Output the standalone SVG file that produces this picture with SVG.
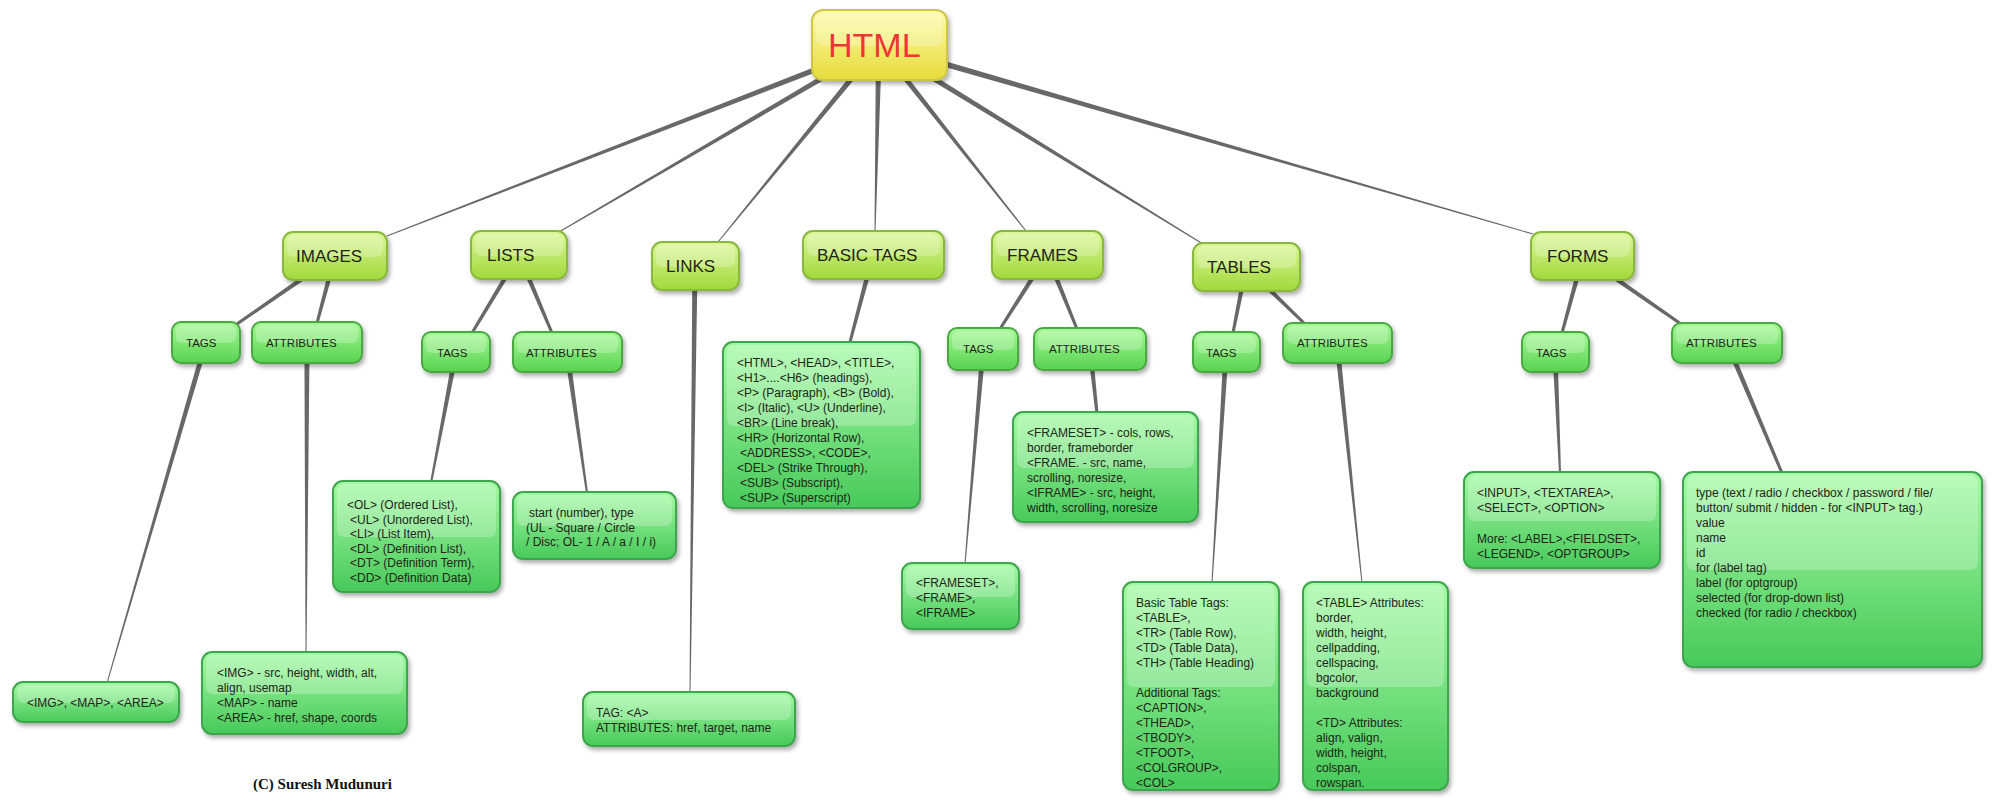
<svg xmlns="http://www.w3.org/2000/svg" xmlns:xlink="http://www.w3.org/1999/xlink" width="1992" height="801" viewBox="0 0 1992 801">
<defs>
<linearGradient id="gH" x1="0" y1="0" x2="0" y2="1"><stop offset="0" stop-color="#fdfca8"/><stop offset="1" stop-color="#e6dc3c"/></linearGradient>
<linearGradient id="gM" x1="0" y1="0" x2="0" y2="1"><stop offset="0" stop-color="#dcf79a"/><stop offset="1" stop-color="#a2d83a"/></linearGradient>
<linearGradient id="gS" x1="0" y1="0" x2="0" y2="1"><stop offset="0" stop-color="#a6f996"/><stop offset="1" stop-color="#58d250"/></linearGradient>
<linearGradient id="gL" x1="0" y1="0" x2="0" y2="1"><stop offset="0" stop-color="#a4faa4"/><stop offset="1" stop-color="#48c95a"/></linearGradient>
<filter id="sh" x="-10%" y="-10%" width="130%" height="140%"><feDropShadow dx="2" dy="3" stdDeviation="2" flood-color="#000" flood-opacity="0.32"/></filter>
<polygon id="tA" points="0,-3 1,-0.5 1,0.5 0,3"/>
<polygon id="tB" points="0,-2.5 1,-1.5 1,1.5 0,2.5"/>
<polygon id="tC" points="0,-2.6 1,-0.5 1,0.5 0,2.6"/>
<polygon id="tD" points="0,-2.6 1,-1 1,1 0,2.6"/>
</defs>
<style>
.con use{fill:#686868}
.h{fill:url(#gH);stroke:#cfc54c;stroke-width:2;filter:url(#sh)}
.m{fill:url(#gM);stroke:#88b83e;stroke-width:2;filter:url(#sh)}
.s{fill:url(#gS);stroke:#48a843;stroke-width:2;filter:url(#sh)}
.l{fill:url(#gL);stroke:#3ea64e;stroke-width:2;filter:url(#sh)}
.gl{fill:#ffffff;fill-opacity:0.24}
text{font-family:"Liberation Sans",Arial,sans-serif;fill:#1e2418}
.tm{font-size:17px}
.ts{font-size:11.5px}
.tl{font-size:12px}
.th{font-size:34px;fill:#ee3535}
.cp{font-family:"Liberation Serif","Times New Roman",serif;font-weight:bold;font-size:15px;fill:#111}
</style>
<rect width="1992" height="801" fill="#ffffff"/>
<g id="connectors" class="con">
<use href="#tA" transform="translate(879,45) rotate(158.79) scale(527.8,1)"/>
<use href="#tA" transform="translate(879,45) rotate(149.70) scale(370.6,1)"/>
<use href="#tA" transform="translate(879,45) rotate(129.26) scale(254.4,1)"/>
<use href="#tA" transform="translate(879,45) rotate(91.23) scale(186,1)"/>
<use href="#tA" transform="translate(879,45) rotate(51.68) scale(237.1,1)"/>
<use href="#tA" transform="translate(879,45) rotate(31.56) scale(380.2,1)"/>
<use href="#tA" transform="translate(879,45) rotate(16.12) scale(680.8,1)"/>
<use href="#tB" transform="translate(335,256) rotate(145.24) scale(119.3,1)"/>
<use href="#tB" transform="translate(335,256) rotate(105.04) scale(69.4,1)"/>
<use href="#tB" transform="translate(519,255) rotate(121.07) scale(91.1,1)"/>
<use href="#tB" transform="translate(519,255) rotate(67.07) scale(84.7,1)"/>
<use href="#tB" transform="translate(873,255) rotate(104.81) scale(90,1)"/>
<use href="#tC" transform="translate(695,266) rotate(90.67) scale(427,1)"/>
<use href="#tB" transform="translate(1047,255) rotate(122.42) scale(87.7,1)"/>
<use href="#tB" transform="translate(1047,255) rotate(67.93) scale(79.8,1)"/>
<use href="#tB" transform="translate(1246,267) rotate(101.14) scale(67.3,1)"/>
<use href="#tB" transform="translate(1246,267) rotate(44.0) scale(82,1)"/>
<use href="#tB" transform="translate(1583,256) rotate(105.26) scale(79.8,1)"/>
<use href="#tB" transform="translate(1583,256) rotate(34.76) scale(119.3,1)"/>
<use href="#tC" transform="translate(206,342) rotate(106.19) scale(355.1,1)"/>
<use href="#tC" transform="translate(307,342) rotate(90.18) scale(311,1)"/>
<use href="#tD" transform="translate(456,352) rotate(100.80) scale(133.4,1)"/>
<use href="#tD" transform="translate(567,352) rotate(81.93) scale(142.4,1)"/>
<use href="#tC" transform="translate(983,349) rotate(94.79) scale(215.8,1)"/>
<use href="#tB" transform="translate(1090,349) rotate(83.76) scale(64.4,1)"/>
<use href="#tC" transform="translate(1226,352) rotate(93.47) scale(231.4,1)"/>
<use href="#tC" transform="translate(1337,343) rotate(84.05) scale(241.3,1)"/>
<use href="#tD" transform="translate(1555,352) rotate(87.63) scale(121.1,1)"/>
<use href="#tB" transform="translate(1727,343) rotate(67.07) scale(141.2,1)"/>
</g>
<g id="html"><rect class="h" x="812" y="10" width="135" height="70" rx="11"/><rect class="gl" x="816" y="13" width="127" height="33" rx="8"/><text class="th" x="828" y="57">HTML</text></g>
<g id="images"><rect class="m" x="283" y="232" width="104" height="48" rx="10"/><rect class="gl" x="287" y="235" width="96" height="22" rx="7"/><text class="tm" x="296" y="262">IMAGES</text></g>
<g id="lists"><rect class="m" x="471" y="231" width="96" height="48" rx="10"/><rect class="gl" x="475" y="234" width="88" height="22" rx="7"/><text class="tm" x="487" y="261">LISTS</text></g>
<g id="links"><rect class="m" x="652" y="242" width="87" height="48" rx="10"/><rect class="gl" x="656" y="245" width="79" height="22" rx="7"/><text class="tm" x="666" y="272">LINKS</text></g>
<g id="basic"><rect class="m" x="803" y="231" width="141" height="48" rx="10"/><rect class="gl" x="807" y="234" width="133" height="22" rx="7"/><text class="tm" x="817" y="261">BASIC TAGS</text></g>
<g id="frames"><rect class="m" x="992" y="231" width="111" height="48" rx="10"/><rect class="gl" x="996" y="234" width="103" height="22" rx="7"/><text class="tm" x="1007" y="261">FRAMES</text></g>
<g id="tables"><rect class="m" x="1193" y="243" width="107" height="48" rx="10"/><rect class="gl" x="1197" y="246" width="99" height="22" rx="7"/><text class="tm" x="1207" y="273">TABLES</text></g>
<g id="forms"><rect class="m" x="1531" y="232" width="103" height="48" rx="10"/><rect class="gl" x="1535" y="235" width="95" height="22" rx="7"/><text class="tm" x="1547" y="262">FORMS</text></g>

<g id="images-tags"><rect class="s" x="172" y="322" width="68" height="41" rx="9"/><rect class="gl" x="176" y="325" width="60" height="18" rx="6"/><text class="ts" x="186" y="347">TAGS</text></g>
<g id="images-attr"><rect class="s" x="252" y="322" width="110" height="41" rx="9"/><rect class="gl" x="256" y="325" width="102" height="18" rx="6"/><text class="ts" x="266" y="347">ATTRIBUTES</text></g>
<g id="lists-tags"><rect class="s" x="422" y="332" width="68" height="40" rx="9"/><rect class="gl" x="426" y="335" width="60" height="18" rx="6"/><text class="ts" x="437" y="357">TAGS</text></g>
<g id="lists-attr"><rect class="s" x="513" y="332" width="109" height="40" rx="9"/><rect class="gl" x="517" y="335" width="101" height="18" rx="6"/><text class="ts" x="526" y="357">ATTRIBUTES</text></g>
<g id="frames-tags"><rect class="s" x="948" y="328" width="70" height="42" rx="9"/><rect class="gl" x="952" y="331" width="62" height="19" rx="6"/><text class="ts" x="963" y="353">TAGS</text></g>
<g id="frames-attr"><rect class="s" x="1034" y="328" width="112" height="42" rx="9"/><rect class="gl" x="1038" y="331" width="104" height="19" rx="6"/><text class="ts" x="1049" y="353">ATTRIBUTES</text></g>
<g id="tables-tags"><rect class="s" x="1193" y="332" width="67" height="40" rx="9"/><rect class="gl" x="1197" y="335" width="59" height="18" rx="6"/><text class="ts" x="1206" y="357">TAGS</text></g>
<g id="tables-attr"><rect class="s" x="1283" y="323" width="109" height="40" rx="9"/><rect class="gl" x="1287" y="326" width="101" height="18" rx="6"/><text class="ts" x="1297" y="347">ATTRIBUTES</text></g>
<g id="forms-tags"><rect class="s" x="1522" y="332" width="67" height="40" rx="9"/><rect class="gl" x="1526" y="335" width="59" height="18" rx="6"/><text class="ts" x="1536" y="357">TAGS</text></g>
<g id="forms-attr"><rect class="s" x="1672" y="323" width="110" height="40" rx="9"/><rect class="gl" x="1676" y="326" width="102" height="18" rx="6"/><text class="ts" x="1686" y="347">ATTRIBUTES</text></g>

<g id="images-tags-leaf"><rect class="l" x="13" y="682" width="166" height="40" rx="10"/><rect class="gl" x="17" y="685" width="158" height="18" rx="7"/><text class="tl" x="27" y="707">&lt;IMG&gt;, &lt;MAP&gt;, &lt;AREA&gt;</text></g>
<g id="images-attr-leaf"><rect class="l" x="202" y="652" width="205" height="82" rx="10"/><rect class="gl" x="206" y="655" width="197" height="39" rx="7"/><text class="tl"><tspan x="217" y="677">&lt;IMG&gt; - src, height, width, alt,</tspan><tspan x="217" y="692">align, usemap</tspan><tspan x="217" y="707">&lt;MAP&gt; - name</tspan><tspan x="217" y="722">&lt;AREA&gt; -  href, shape, coords</tspan></text></g>
<g id="lists-tags-leaf"><rect class="l" x="333" y="481" width="167" height="111" rx="10"/><rect class="gl" x="337" y="484" width="159" height="53" rx="7"/><text class="tl"><tspan x="347" y="509">&lt;OL&gt; (Ordered List),</tspan><tspan x="350" y="524">&lt;UL&gt; (Unordered List),</tspan><tspan x="350" y="538">&lt;LI&gt; (List Item),</tspan><tspan x="350" y="553">&lt;DL&gt; (Definition List),</tspan><tspan x="350" y="567">&lt;DT&gt; (Definition Term),</tspan><tspan x="350" y="582">&lt;DD&gt; (Definition Data)</tspan></text></g>
<g id="lists-attr-leaf"><rect class="l" x="513" y="492" width="163" height="67" rx="10"/><rect class="gl" x="517" y="495" width="155" height="31" rx="7"/><text class="tl"><tspan x="529" y="517">start (number), type</tspan><tspan x="526" y="532">(UL - Square / Circle</tspan><tspan x="526" y="546">/ Disc; OL- 1 / A / a / I / i)</tspan></text></g>
<g id="links-leaf"><rect class="l" x="583" y="692" width="212" height="54" rx="10"/><rect class="gl" x="587" y="695" width="204" height="25" rx="7"/><text class="tl"><tspan x="596" y="717">TAG: &lt;A&gt;</tspan><tspan x="596" y="732">ATTRIBUTES: href, target, name</tspan></text></g>
<g id="basic-leaf"><rect class="l" x="723" y="342" width="197" height="166" rx="10"/><rect class="gl" x="727" y="345" width="189" height="81" rx="7"/><text class="tl"><tspan x="737" y="367">&lt;HTML&gt;, &lt;HEAD&gt;, &lt;TITLE&gt;,</tspan><tspan x="737" y="382">&lt;H1&gt;....&lt;H6&gt; (headings),</tspan><tspan x="737" y="397">&lt;P&gt; (Paragraph), &lt;B&gt; (Bold),</tspan><tspan x="737" y="412">&lt;I&gt; (Italic), &lt;U&gt; (Underline),</tspan><tspan x="737" y="427">&lt;BR&gt; (Line break),</tspan><tspan x="737" y="442">&lt;HR&gt; (Horizontal Row),</tspan><tspan x="740" y="457">&lt;ADDRESS&gt;, &lt;CODE&gt;,</tspan><tspan x="737" y="472">&lt;DEL&gt; (Strike Through),</tspan><tspan x="740" y="487">&lt;SUB&gt; (Subscript),</tspan><tspan x="740" y="502">&lt;SUP&gt; (Superscript)</tspan></text></g>
<g id="frames-tags-leaf"><rect class="l" x="902" y="563" width="117" height="66" rx="10"/><rect class="gl" x="906" y="566" width="109" height="31" rx="7"/><text class="tl"><tspan x="916" y="587">&lt;FRAMESET&gt;,</tspan><tspan x="916" y="602">&lt;FRAME&gt;,</tspan><tspan x="916" y="617">&lt;IFRAME&gt;</tspan></text></g>
<g id="frames-attr-leaf"><rect class="l" x="1013" y="412" width="185" height="110" rx="10"/><rect class="gl" x="1017" y="415" width="177" height="53" rx="7"/><text class="tl"><tspan x="1027" y="437">&lt;FRAMESET&gt; - cols, rows,</tspan><tspan x="1027" y="452">border, frameborder</tspan><tspan x="1027" y="467">&lt;FRAME. - src, name,</tspan><tspan x="1027" y="482">scrolling, noresize,</tspan><tspan x="1027" y="497">&lt;IFRAME&gt; - src, height,</tspan><tspan x="1027" y="512">width, scrolling, noresize</tspan></text></g>
<g id="tables-tags-leaf"><rect class="l" x="1123" y="582" width="156" height="208" rx="10"/><rect class="gl" x="1127" y="585" width="148" height="102" rx="7"/><text class="tl"><tspan x="1136" y="607">Basic Table Tags:</tspan><tspan x="1136" y="622">&lt;TABLE&gt;,</tspan><tspan x="1136" y="637">&lt;TR&gt; (Table Row),</tspan><tspan x="1136" y="652">&lt;TD&gt; (Table Data),</tspan><tspan x="1136" y="667">&lt;TH&gt; (Table Heading)</tspan><tspan x="1136" y="697">Additional Tags:</tspan><tspan x="1136" y="712">&lt;CAPTION&gt;,</tspan><tspan x="1136" y="727">&lt;THEAD&gt;,</tspan><tspan x="1136" y="742">&lt;TBODY&gt;,</tspan><tspan x="1136" y="757">&lt;TFOOT&gt;,</tspan><tspan x="1136" y="772">&lt;COLGROUP&gt;,</tspan><tspan x="1136" y="787">&lt;COL&gt;</tspan></text></g>
<g id="tables-attr-leaf"><rect class="l" x="1303" y="582" width="145" height="208" rx="10"/><rect class="gl" x="1307" y="585" width="137" height="102" rx="7"/><text class="tl"><tspan x="1316" y="607">&lt;TABLE&gt; Attributes:</tspan><tspan x="1316" y="622">border,</tspan><tspan x="1316" y="637">width, height,</tspan><tspan x="1316" y="652">cellpadding,</tspan><tspan x="1316" y="667">cellspacing,</tspan><tspan x="1316" y="682">bgcolor,</tspan><tspan x="1316" y="697">background</tspan><tspan x="1316" y="727">&lt;TD&gt; Attributes:</tspan><tspan x="1316" y="742">align, valign,</tspan><tspan x="1316" y="757">width, height,</tspan><tspan x="1316" y="772">colspan,</tspan><tspan x="1316" y="787">rowspan.</tspan></text></g>
<g id="forms-tags-leaf"><rect class="l" x="1464" y="472" width="196" height="96" rx="10"/><rect class="gl" x="1468" y="475" width="188" height="46" rx="7"/><text class="tl"><tspan x="1477" y="497">&lt;INPUT&gt;, &lt;TEXTAREA&gt;,</tspan><tspan x="1477" y="512">&lt;SELECT&gt;, &lt;OPTION&gt;</tspan><tspan x="1477" y="543">More: &lt;LABEL&gt;,&lt;FIELDSET&gt;,</tspan><tspan x="1477" y="558">&lt;LEGEND&gt;, &lt;OPTGROUP&gt;</tspan></text></g>
<g id="forms-attr-leaf"><rect class="l" x="1683" y="472" width="299" height="195" rx="10"/><rect class="gl" x="1687" y="475" width="291" height="95" rx="7"/><text class="tl"><tspan x="1696" y="497">type (text / radio / checkbox / password / file/</tspan><tspan x="1696" y="512">button/ submit / hidden - for &lt;INPUT&gt; tag.)</tspan><tspan x="1696" y="527">value</tspan><tspan x="1696" y="542">name</tspan><tspan x="1696" y="557">id</tspan><tspan x="1696" y="572">for (label tag)</tspan><tspan x="1696" y="587">label (for optgroup)</tspan><tspan x="1696" y="602">selected (for drop-down list)</tspan><tspan x="1696" y="617">checked (for radio / checkbox)</tspan></text></g>

<text class="cp" x="253" y="789">(C) Suresh Mudunuri</text>
</svg>
